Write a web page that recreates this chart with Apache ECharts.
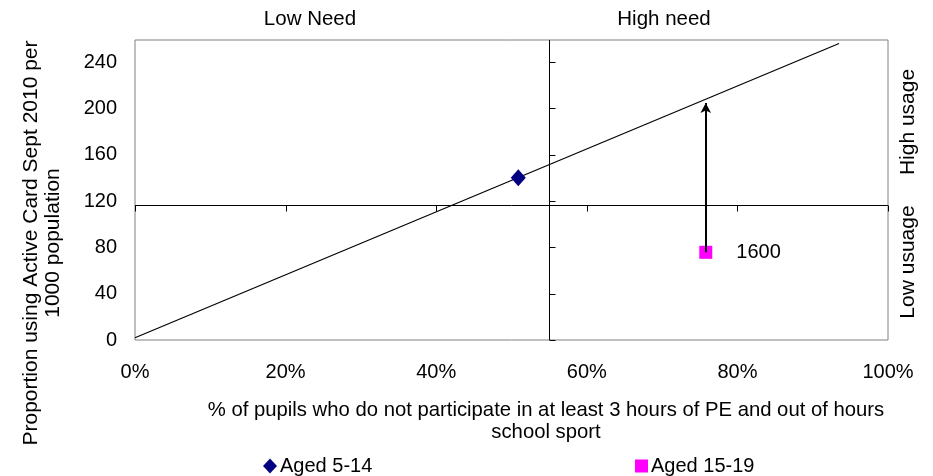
<!DOCTYPE html>
<html>
<head>
<meta charset="utf-8">
<script src="https://cdn.jsdelivr.net/npm/echarts@6/dist/echarts.min.js"></script>
<style>html,body{margin:0;padding:0;background:#fff}#c{width:933px;height:476px}</style>
</head>
<body>
<div id="c"></div>
<script>
// ---- data ----
const xTicks = [0, 20, 40, 60, 80, 100];            // % tick labels
const yTicks = [0, 40, 80, 120, 160, 200, 240];      // y tick values
const xCross = 55;       // vertical axis crosses at 55%
const yCross = 116.5;    // horizontal axis crosses at 116.5
const yMax = 259;
const trendLine = [[0, 2], [93.5, 256]];
const aged5to14 = [[50.9, 140.1]];
const aged15to19 = [[75.8, 75.7]];
const aged15to19Label = ['1600'];
const arrowTarget = [[75.8, 204.6]];
const seriesNames = ['Aged 5-14', 'Aged 15-19'];

const FONT = "'Liberation Sans', Arial, sans-serif";
const chart = echarts.init(document.getElementById('c'));

const option = {
  animation: false,
  grid: { left: 135, top: 40, right: 45, bottom: 136, show: true, borderColor: '#808080', borderWidth: 1, containLabel: false },
  xAxis: {
    type: 'value', min: 0, max: 100, interval: 20,
    axisLine: { show: false }, axisTick: { show: false }, splitLine: { show: false },
    axisLabel: { formatter: v => v + '%', color: '#000', fontSize: 20, fontFamily: FONT, margin: 22 }
  },
  yAxis: {
    type: 'value', min: 0, max: yMax, interval: 40,
    axisLine: { show: false }, axisTick: { show: false }, splitLine: { show: false },
    axisLabel: { color: '#000', fontSize: 20, fontFamily: FONT, margin: 18, showMaxLabel: false,
      formatter: v => (yTicks.indexOf(v) >= 0 ? String(v) : '') }
  },
  legend: [
    { data: [seriesNames[0]], left: 258, top: 451, itemWidth: 14, itemHeight: 15, itemGap: 0,
      itemStyle: { opacity: 1 },
      textStyle: { color: '#000', fontSize: 20, fontFamily: FONT, padding: [0, 0, 0, -2] } },
    { data: [seriesNames[1]], left: 630, top: 451, itemWidth: 13, itemHeight: 13, itemGap: 0,
      itemStyle: { opacity: 1 },
      textStyle: { color: '#000', fontSize: 20, fontFamily: FONT, padding: [0, 0, 0, -2] } }
  ],
  graphic: [
    { type: 'text', x: 310, y: 19, style: { text: 'Low Need', fill: '#000', font: '20.5px ' + FONT, align: 'center', verticalAlign: 'middle' } },
    { type: 'text', x: 664, y: 19, style: { text: 'High need', fill: '#000', font: '20.5px ' + FONT, align: 'center', verticalAlign: 'middle' } },
    { type: 'text', x: 908, y: 122, rotation: Math.PI / 2, style: { text: 'High usage', fill: '#000', font: '21px ' + FONT, align: 'center', verticalAlign: 'middle' } },
    { type: 'text', x: 908, y: 262, rotation: Math.PI / 2, style: { text: 'Low usuage', fill: '#000', font: '21px ' + FONT, align: 'center', verticalAlign: 'middle' } },
    { type: 'text', x: 42, y: 243, rotation: Math.PI / 2, style: { text: 'Proportion using Active Card Sept 2010 per\n1000 population', fill: '#000', font: '21px ' + FONT, align: 'center', verticalAlign: 'middle', lineHeight: 22 } },
    { type: 'text', x: 546, y: 421, style: { text: '% of pupils who do not participate in at least 3 hours of PE and out of hours\nschool sport', fill: '#000', font: '20.3px ' + FONT, align: 'center', verticalAlign: 'middle', lineHeight: 22 } }
  ],
  series: [
    {
      type: 'custom', name: 'crossAxes', silent: true, clip: false, z: 1,
      data: [[xCross, yCross]],
      renderItem: function (params, api) {
        const children = [];
        const a = api.coord([0, yCross]), b = api.coord([100, yCross]);
        children.push({ type: 'line', shape: { x1: a[0], y1: Math.round(a[1]) + 0.5, x2: b[0], y2: Math.round(b[1]) + 0.5 }, style: { stroke: '#000', lineWidth: 1 } });
        const c = api.coord([xCross, 0]), d = api.coord([xCross, yMax]);
        const vx = Math.round(c[0]) + 0.5;
        children.push({ type: 'line', shape: { x1: vx, y1: c[1], x2: vx, y2: d[1] }, style: { stroke: '#000', lineWidth: 1 } });
        xTicks.forEach(function (t) {
          const p = api.coord([t, yCross]);
          const px = Math.round(p[0]) + 0.5, py = Math.round(p[1]) + 0.5;
          children.push({ type: 'line', shape: { x1: px, y1: py, x2: px, y2: py + 6 }, style: { stroke: '#000', lineWidth: 1 } });
        });
        yTicks.forEach(function (t) {
          const p = api.coord([xCross, t]);
          const py = Math.round(p[1]) + 0.5;
          children.push({ type: 'line', shape: { x1: vx, y1: py, x2: vx + 6, y2: py }, style: { stroke: '#000', lineWidth: 1 } });
        });
        return { type: 'group', children: children };
      }
    },
    {
      type: 'line', name: 'trend', data: trendLine, symbol: 'none', silent: true, z: 2,
      lineStyle: { color: '#000', width: 1.2 }
    },
    {
      type: 'scatter', name: seriesNames[0], data: aged5to14, symbol: 'diamond', symbolSize: [15, 17], z: 3,
      itemStyle: { color: '#000080', opacity: 1 }
    },
    {
      type: 'scatter', name: seriesNames[1], symbol: 'rect', symbolSize: 13, z: 3,
      data: aged15to19.map((p, i) => ({ value: p, label: { show: true, formatter: aged15to19Label[i] } })),
      itemStyle: { color: '#FF00FF', opacity: 1 },
      label: { position: 'right', distance: 24, color: '#000', fontSize: 20, fontFamily: FONT },
      markLine: {
        silent: true, symbol: ['none', 'arrow'], symbolSize: [8, 10], z: 4,
        label: { show: false },
        lineStyle: { color: '#000', width: 2, type: 'solid', opacity: 1 },
        data: aged15to19.map((p, i) => [{ coord: p }, { coord: arrowTarget[i] }])
      }
    }
  ]
};
chart.setOption(option);
</script>
</body>
</html>
